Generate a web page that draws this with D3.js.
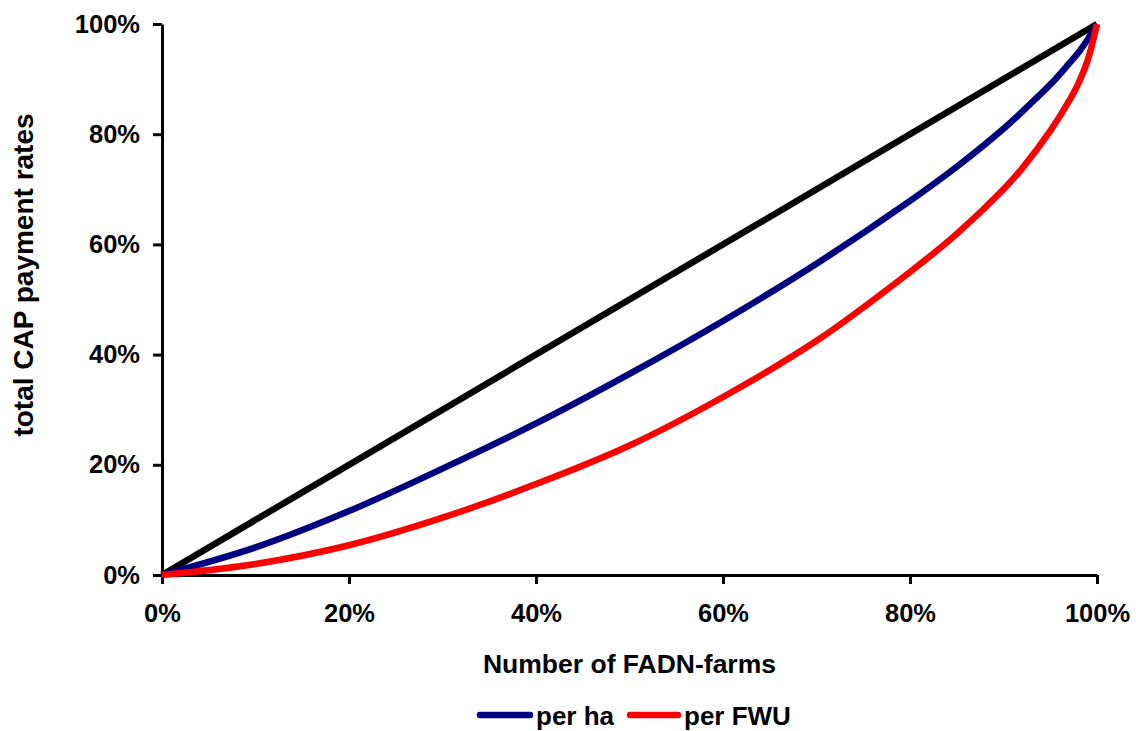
<!DOCTYPE html>
<html>
<head>
<meta charset="utf-8">
<script src="https://cdn.jsdelivr.net/npm/d3@7"></script>
<style>
  html, body { margin: 0; padding: 0; background: #fff; }
  svg { display: block; }
  text { font-family: "Liberation Sans", Arial, sans-serif; font-weight: bold; fill: #000; }
</style>
</head>
<body>
<svg id="chart" width="1136" height="731"></svg>
<script>
// Share of farms (x, %) and cumulative share of payments (y, %)
const farmShare   = [0, 10, 20, 30, 40, 50, 60, 70, 80, 85, 90, 92, 95, 97, 98, 99, 100];
const perHa       = [0, 5.0, 11.6, 19.3, 27.5, 36.5, 46.1, 56.5, 67.9, 74.1, 81.0, 84.1, 89.0, 92.8, 94.8, 97.2, 100];
const perFWU      = [0, 2.0, 5.4, 10.4, 16.5, 23.5, 32.3, 42.5, 55.0, 61.9, 70.0, 73.8, 80.6, 86.0, 89.2, 93.4, 100];
const equalityX   = [0, 100];
const equalityY   = [0, 100];
const tickValues  = [0, 20, 40, 60, 80, 100];
const seriesNames = ["per ha", "per FWU"];
const seriesColors = ["#000080", "#ff0000"];
const xTitle = "Number of FADN-farms";
const yTitle = "total CAP payment rates";

const svg = d3.select("#chart");
const m = { left: 162, right: 1097, top: 24, bottom: 575 };

const x = d3.scaleLinear().domain([0, 100]).range([m.left, m.right]);
const y = d3.scaleLinear().domain([0, 100]).range([m.bottom, m.top]);

const fmt = d => d + "%";

// axes
const yAxis = svg.append("g")
  .attr("transform", `translate(${m.left},0)`)
  .call(d3.axisLeft(y).tickValues(tickValues).tickFormat(fmt).tickSize(9).tickPadding(13).tickSizeOuter(0));
const xAxis = svg.append("g")
  .attr("transform", `translate(0,${m.bottom})`)
  .call(d3.axisBottom(x).tickValues(tickValues).tickFormat(fmt).tickSize(9).tickPadding(20).tickSizeOuter(0));

[xAxis, yAxis].forEach(a => {
  a.selectAll("path.domain").attr("stroke", "#000").attr("stroke-width", 3);
  a.selectAll(".tick line").attr("stroke", "#000").attr("stroke-width", 3);
  a.selectAll(".tick text").style("font-size", "25.5px").style("font-family", "'Liberation Sans', Arial, sans-serif").style("font-weight", "bold").attr("fill", "#000");
});

// lines
const line = d3.line().x(d => x(d[0])).y(d => y(d[1])).curve(d3.curveCatmullRom.alpha(0.5));

svg.append("path")
  .datum(equalityX.map((v, i) => [v, equalityY[i]]))
  .attr("d", d3.line().x(d => x(d[0])).y(d => y(d[1])))
  .attr("fill", "none").attr("stroke", "#000").attr("stroke-width", 6.5);

[perHa, perFWU].forEach((vals, si) => {
  svg.append("path")
    .datum(farmShare.map((v, i) => [v, vals[i]]))
    .attr("d", line)
    .attr("fill", "none")
    .attr("stroke", seriesColors[si])
    .attr("stroke-width", 6.5)
    .attr("stroke-linejoin", "round");
});

// titles
svg.append("text")
  .attr("x", (m.left + m.right) / 2).attr("y", 673)
  .attr("text-anchor", "middle").style("font-size", "26.5px")
  .text(xTitle);

svg.append("text")
  .attr("transform", `translate(33,275) rotate(-90)`)
  .attr("text-anchor", "middle").style("font-size", "28px")
  .text(yTitle);

// legend
const legendItems = [
  { name: seriesNames[0], color: seriesColors[0], x0: 480, x1: 530, tx: 536 },
  { name: seriesNames[1], color: seriesColors[1], x0: 630, x1: 678, tx: 684 }
];
legendItems.forEach(it => {
  svg.append("line")
    .attr("x1", it.x0).attr("x2", it.x1).attr("y1", 715).attr("y2", 715)
    .attr("stroke", it.color).attr("stroke-width", 6.5).attr("stroke-linecap", "round");
  svg.append("text")
    .attr("x", it.tx).attr("y", 725)
    .style("font-size", "26px")
    .text(it.name);
});
</script>
</body>
</html>
